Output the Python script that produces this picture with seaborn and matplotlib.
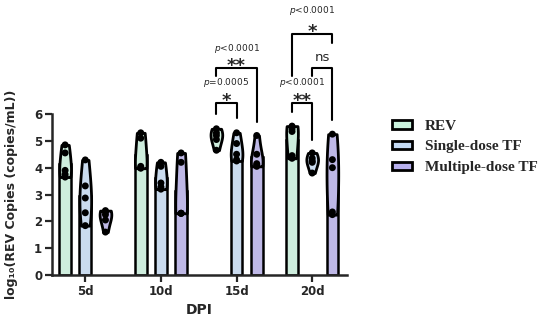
import matplotlib
matplotlib.use("Agg")
import matplotlib.pyplot as plt
from matplotlib.patches import Patch
import pandas as pd
import seaborn as sns

# data (log10 copies/mL)
dpi_days = ["5d", "10d", "15d", "20d"]
groups = ["REV", "Single-dose TF", "Multiple-dose TF"]
colors = ["#c9f2dd", "#c4daf4", "#b8b0ee"]

rev_vals = [[4.85, 4.55, 3.9, 3.75, 3.65],
            [5.3, 5.1, 4.05, 4.0, 3.98],
            [5.45, 5.3, 5.2, 5.05, 4.65],
            [5.55, 5.45, 5.35, 4.45, 4.35]]
single_vals = [[4.29, 3.32, 2.87, 2.32, 1.84],
               [4.2, 4.05, 3.43, 3.28, 3.2],
               [5.3, 4.9, 4.5, 4.3, 4.25],
               [4.55, 4.35, 4.25, 4.2, 3.8]]
multi_vals = [[2.4, 2.35, 2.25, 2.05, 1.6],
              [4.55, 4.2, 2.3, 2.3, 2.3],
              [5.2, 4.5, 4.15, 4.1, 4.05],
              [5.25, 4.3, 4.0, 2.35, 2.25]]
# groups drawn without a bar in the original
no_bar = [("5d", "Multiple-dose TF"), ("15d", "REV"), ("20d", "Single-dose TF")]

rows = []
for g, vals in zip(groups, [rev_vals, single_vals, multi_vals]):
    for d, vv in zip(dpi_days, vals):
        for v in vv:
            rows.append({"dpi": d, "group": g, "value": v})
df = pd.DataFrame(rows)
keep = ~df.apply(lambda r: (r.dpi, r.group) in no_bar, axis=1)
df_bar = df[keep]

sns.set_style("ticks")
plt.rcParams["font.family"] = ["DejaVu Sans"]
pal = dict(zip(groups, colors))

fig = plt.figure(figsize=(5.5, 3.23), dpi=100)
ax = fig.add_axes([52 / 550, 48 / 323, 295 / 550, 275 / 323])

sns.barplot(data=df_bar, x="dpi", y="value", hue="group", order=dpi_days,
            hue_order=groups, palette=pal, errorbar=None, width=0.8, gap=0.42,
            edgecolor="black", linewidth=1.8, legend=False, ax=ax, zorder=1)
sns.violinplot(data=df, x="dpi", y="value", hue="group", order=dpi_days,
               hue_order=groups, palette=pal, width=0.8, gap=0.42, cut=0,
               inner=None, density_norm="width", bw_adjust=1.3, linewidth=2,
               linecolor="black", legend=False, ax=ax, zorder=2)
sns.stripplot(data=df, x="dpi", y="value", hue="group", order=dpi_days,
              hue_order=groups, palette=["black"] * 3, dodge=True, jitter=False,
              size=5, legend=False, ax=ax, zorder=3)

ax.set_xlim(-0.44, 3.46)
ax.set_ylim(0, 10.25)
ax.set_yticks(range(0, 7))
ax.spines["left"].set_bounds(0, 6)
for s in ["top", "right"]:
    ax.spines[s].set_visible(False)
for s in ["left", "bottom"]:
    ax.spines[s].set_linewidth(1.8)
ax.tick_params(width=1.6, length=5, labelsize=8.5, pad=2)
for lab in ax.get_xticklabels() + ax.get_yticklabels():
    lab.set_fontweight("bold")
ax.set_xlabel("DPI", fontsize=10, fontweight="bold", labelpad=4)
ax.set_ylabel("log₁₀(REV Copies (copies/mL))", fontsize=9, fontweight="bold")
ax.yaxis.set_label_coords(-0.115, 3 / 10.25)

# significance brackets
off = 0.8 / 3
def bracket(x1, x2, top, yl, yr, star, ptxt, ys, yp, star_size=13):
    ax.plot([x1, x1, x2, x2], [yl, top, top, yr], color="black", lw=1.5,
            clip_on=False, zorder=4)
    xc = (x1 + x2) / 2
    if star == "ns":
        ax.text(xc, ys, "ns", ha="center", va="center", fontsize=9.5)
    else:
        ax.text(xc, ys - 0.3, star, ha="center", va="center",
                fontsize=star_size, fontweight="bold")
    if ptxt:
        ax.text(xc, yp, ptxt, ha="center", va="center", fontsize=6.5)

bracket(2 - off, 2, 6.41, 6.0, 5.85, "*", "$p$=0.0005", 6.8, 7.16)
bracket(2 - off, 2 + off, 7.7, 7.4, 5.7, "**", "$p$<0.0001", 8.1, 8.45)
bracket(3 - off, 3, 6.41, 6.07, 5.03, "**", "$p$<0.0001", 6.8, 7.16)
bracket(3, 3 + off, 7.7, 7.4, 5.78, "ns", None, 8.1, None)
bracket(3 - off, 3 + off, 9.0, 7.4, 8.65, "*", "$p$<0.0001", 9.35, 9.87)

handles = [Patch(facecolor=c, edgecolor="black", linewidth=2, label=g)
           for g, c in zip(groups, colors)]
fig.legend(handles=handles, loc="center left", bbox_to_anchor=(392 / 550, 176 / 323),
           frameon=False, borderpad=0, borderaxespad=0, handlelength=1.3,
           handleheight=0.45, handletextpad=0.85, labelspacing=0.5,
           prop={"family": "Liberation Serif", "weight": "bold", "size": 11})

fig.savefig("out.png", dpi=100)
